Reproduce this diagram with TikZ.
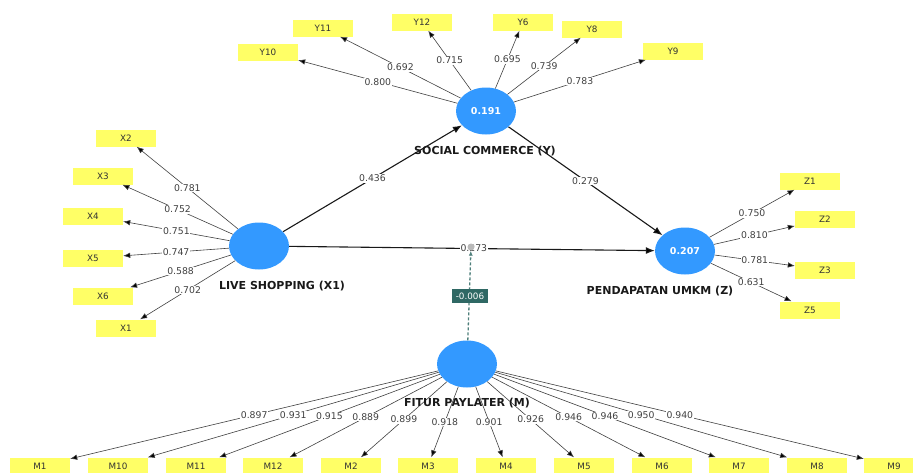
\documentclass[tikz,border=0pt]{standalone}
\usepackage{fontspec}
\setmainfont{DejaVu Sans}
\usetikzlibrary{arrows.meta,shapes.geometric}

\definecolor{lvblue}{RGB}{51,153,255}
\definecolor{indyellow}{RGB}{255,255,102}
\definecolor{modteal}{RGB}{47,104,100}

\begin{document}
\begin{tikzpicture}[x=1pt,y=-1pt,>={Latex[length=7pt,width=5.5pt]},
  latent/.style={ellipse,fill=lvblue,minimum width=60pt,minimum height=47pt,inner sep=0pt,text=white,font=\bfseries\fontsize{9.5}{9.5}\selectfont},
  indicator/.style={rectangle,fill=indyellow,minimum width=60pt,minimum height=17pt,inner sep=0pt,text=black!80,font=\fontsize{8.8}{8.8}\selectfont},
  lvname/.style={text=black!90,font=\bfseries\fontsize{11}{11}\selectfont},
  coef/.style={fill=white,inner sep=0.6pt,text=black!75,font=\fontsize{9.3}{9.3}\selectfont},
  load/.style={->,draw=black!75,line width=0.6pt},
  inner/.style={->,draw=black!90,line width=1.1pt,>={Latex[length=9pt,width=7pt]}}]

\useasboundingbox (0,0) rectangle (913,472);

\node[latent] (Y)  at (486,111) {0.191};
 \node[latent] (X1) at (259,246) {};
\node[latent] (Z)  at (685,251) {0.207};
	\node[latent] (M)  at (467,364) {};

\node[indicator] (y10) at (268,52) {Y10};
\node[indicator] (y11) at (323,28) {Y11};
\node[indicator] (y12) at (422,22) {Y12};
\node[indicator] (y6)  at (523,22) {Y6};
\node[indicator] (y8)  at (592,29) {Y8};
\node[indicator] (y9)  at (673,51) {Y9};

\node[indicator] (x2) at (126,138) {X2};
\node[indicator] (x3) at (103,176) {X3};
\node[indicator] (x4) at (93,216)  {X4};
\node[indicator] (x5) at (93,258)  {X5};
\node[indicator] (x6) at (103,296) {X6};
\node[indicator] (x1) at (126,328) {X1};

\node[indicator] (z1) at (810,181) {Z1};
\node[indicator] (z2) at (825,219) {Z2};
\node[indicator] (z3) at (825,270) {Z3};
\node[indicator] (z5) at (810,310) {Z5};

\node[indicator] (m1)  at (40,466)  {M1};
\node[indicator] (m10) at (118,466) {M10};
\node[indicator] (m11) at (196,466) {M11};
\node[indicator] (m12) at (273,466) {M12};
\node[indicator] (m2)  at (351,466) {M2};
\node[indicator] (m3)  at (428,466) {M3};
\node[indicator] (m4)  at (506,466) {M4};
\node[indicator] (m5)  at (584,466) {M5};
\node[indicator] (m6)  at (662,466) {M6};
\node[indicator] (m7)  at (739,466) {M7};
\node[indicator] (m8)  at (817,466) {M8};
\node[indicator] (m9)  at (894,466) {M9};

	\path[load] (Y) edge node[coef]{0.800} (y10)
			edge node[coef]{0.692} (y11)
			edge node[coef]{0.715} (y12)
			edge node[coef]{0.695} (y6)
			edge node[coef]{0.739} (y8)
			edge node[coef]{0.783} (y9)

		(X1) edge node[coef]{0.781} (x2)
			edge node[coef]{0.752} (x3)
			edge node[coef]{0.751} (x4)
			edge node[coef]{0.747} (x5)
			edge node[coef]{0.588} (x6)
			edge node[coef]{0.702} (x1)

		(Z) edge node[coef]{0.750} (z1)
			edge node[coef]{0.810} (z2)
			edge node[coef]{0.781} (z3)
			edge node[coef]{0.631} (z5)

		(M) edge node[coef]{0.897} (m1)
			edge node[coef]{0.931} (m10)
			edge node[coef]{0.915} (m11)
			edge node[coef]{0.889} (m12)
			edge node[coef]{0.899} (m2)
			edge node[coef]{0.918} (m3)
			edge node[coef]{0.901} (m4)
			edge node[coef]{0.926} (m5)
			edge node[coef]{0.946} (m6)
			edge node[coef]{0.946} (m7)
			edge node[coef]{0.950} (m8)
			edge node[coef]{0.940} (m9);

	\path[inner] (X1) edge node[coef]{0.436} (Y)
			edge node[coef,pos=0.505]{0.273} (Z)
		(Y) edge node[coef]{0.279} (Z);

% moderating effect
\node[circle,fill=gray!55,minimum size=7pt,inner sep=0pt] (mod) at (471,247) {};
\draw[->,densely dashed,draw=modteal!85,line width=1.3pt,>={Latex[length=5pt,width=4pt]}] (M) -- (mod);
\node[fill=modteal,text=white,inner sep=1.5pt,minimum width=36pt,minimum height=14pt,font=\fontsize{8.8}{8.8}\selectfont] (me) at (470,296) {-0.006};

\node[lvname] (Ylab)  at (485,151) {SOCIAL COMMERCE (Y)};
\node[lvname] (X1lab) at (282,286) {LIVE SHOPPING (X1)};
\node[lvname] (Zlab)  at (660,291) {PENDAPATAN UMKM (Z)};
\node[lvname] (Mlab)  at (467,403) {FITUR PAYLATER (M)};

\end{tikzpicture}
\end{document}
